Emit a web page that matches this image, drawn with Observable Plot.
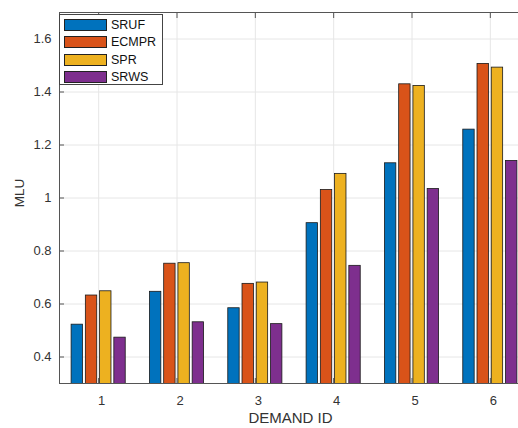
<!DOCTYPE html>
<html>
<head>
<meta charset="utf-8">
<script src="https://cdn.jsdelivr.net/npm/d3@7"></script>
<script src="https://cdn.jsdelivr.net/npm/@observablehq/plot@0.6"></script>
<style>
  body { margin: 0; background: #fff; }
  #wrap { position: relative; width: 518px; height: 428px; overflow: hidden; font-family: "Liberation Sans", Arial, sans-serif; }
  #legend { position: absolute; left: 59px; top: 14px; width: 104px; height: 71px; border: 1px solid #444; background: #fff; box-sizing: border-box; }
  .row { position: absolute; left: 4px; height: 13px; display: flex; align-items: center; }
  .sw { width: 43px; height: 12px; border: 1px solid #222; box-sizing: border-box; }
  .lb { margin-left: 4px; font-size: 12.5px; color: #111; }
</style>
</head>
<body>
<div id="wrap"></div>
<script>
const demands = [1, 2, 3, 4, 5, 6];
const methods = ["SRUF", "ECMPR", "SPR", "SRWS"];
const colors = ["#0072BD", "#D95319", "#EDB120", "#7E2F8E"];
const SRUF  = [0.522, 0.646, 0.584, 0.905, 1.131, 1.258];
const ECMPR = [0.632, 0.752, 0.676, 1.030, 1.429, 1.506];
const SPR   = [0.648, 0.754, 0.681, 1.091, 1.423, 1.492];
const SRWS  = [0.473, 0.531, 0.524, 0.744, 1.034, 1.140];
const yTicks = [0.4, 0.6, 0.8, 1.0, 1.2, 1.4, 1.6];
const yTickLabels = ["0.4", "0.6", "0.8", "1", "1.2", "1.4", "1.6"];
const xTicks = [1, 2, 3, 4, 5, 6];
const xTickLabels = ["1", "2", "3", "4", "5", "6"];

const series = [SRUF, ECMPR, SPR, SRWS];
const groupWidth = Math.min(0.8, 4 / (4 + 1.5));
const slot = groupWidth / 4;
const barW = slot * 0.8;
const rows = [];
series.forEach((vals, j) => {
  vals.forEach((v, i) => {
    const c = demands[i] - groupWidth / 2 + slot * (j + 0.5);
    rows.push({method: methods[j], x1: c - barW / 2, x2: c + barW / 2, value: v});
  });
});

const chart = Plot.plot({
  width: 518,
  height: 428,
  marginTop: 12,
  marginBottom: 45,
  marginLeft: 59,
  marginRight: 0,
  style: {fontFamily: '"Liberation Sans", Arial, sans-serif', background: "#fff"},
  x: {domain: [0.5, 6.5], range: [59, 529]},
  y: {domain: [0.3, 1.7]},
  color: {domain: methods, range: colors},
  marks: [
    Plot.gridY(yTicks, {stroke: "#e6e6e6", strokeOpacity: 1}),
    Plot.gridX(xTicks, {stroke: "#e6e6e6", strokeOpacity: 1}),
    Plot.rectY(rows, {x1: "x1", x2: "x2", y1: 0, y2: "value", fill: "method", stroke: "#1a1a1a", strokeWidth: 0.8, clip: true}),
    Plot.ruleY([0.3, 1.7], {stroke: "#555", strokeWidth: 1}),
    Plot.ruleX([0.5], {stroke: "#555", strokeWidth: 1}),
    Plot.axisY({ticks: yTicks, tickSize: 5, dx: 5, tickFormat: () => "", label: null, stroke: "#555"}),
    Plot.axisX({ticks: xTicks, anchor: "bottom", tickSize: 5, dy: -5, tickFormat: () => "", label: null, stroke: "#555"}),
    Plot.axisX({ticks: xTicks, anchor: "top", tickSize: 5, dy: 5, tickFormat: () => "", label: null, stroke: "#555"}),
    Plot.axisY({ticks: yTicks, tickFormat: (d, i) => yTickLabels[i], tickSize: 0, tickPadding: 8, fontSize: 13, fill: "#333", label: null}),
    Plot.axisX({ticks: xTicks, tickFormat: (d, i) => xTickLabels[i], tickSize: 0, tickPadding: 12, dx: 3, fontSize: 13, fill: "#333", label: null}),
    Plot.text(["DEMAND ID"], {x: 3.5, y: 0.3, dy: 35, dx: -4, fontSize: 15, fill: "#333", textAnchor: "middle"}),
    Plot.text(["MLU"], {frameAnchor: "left", dx: -40, dy: -5, rotate: -90, fontSize: 13.5, fill: "#333", textAnchor: "middle"})
  ]
});

const wrap = document.getElementById("wrap");
wrap.appendChild(chart);

const legend = document.createElement("div");
legend.id = "legend";
methods.forEach((m, i) => {
  const row = document.createElement("div");
  row.className = "row";
  row.style.top = (3.5 + i * 17.4) + "px";
  const sw = document.createElement("div");
  sw.className = "sw";
  sw.style.background = colors[i];
  const lb = document.createElement("span");
  lb.className = "lb";
  lb.textContent = m;
  row.appendChild(sw);
  row.appendChild(lb);
  legend.appendChild(row);
});
wrap.appendChild(legend);
</script>
</body>
</html>
